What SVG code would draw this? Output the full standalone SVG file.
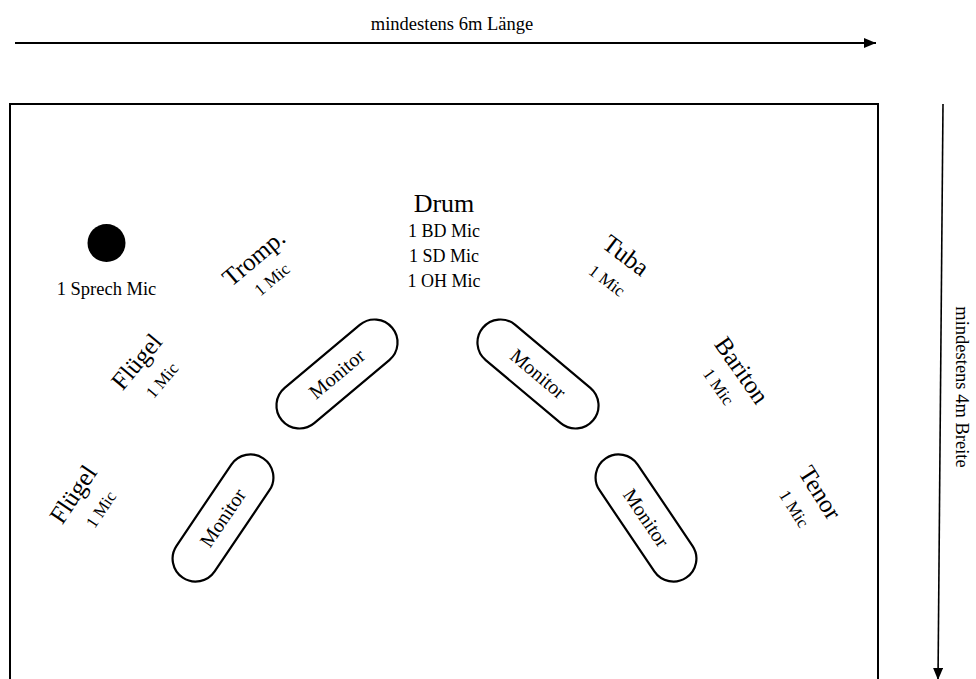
<svg xmlns="http://www.w3.org/2000/svg" width="976" height="679" viewBox="0 0 976 679">
<defs>
<style>
text{font-family:"Liberation Serif","Times New Roman",serif;fill:#000}
.mid{text-anchor:middle}
.name{font-size:25px}
.mic{font-size:17px}
.mon rect{fill:#fff;stroke:#000;stroke-width:2.2}
.mon text{font-size:20px;text-anchor:middle}
.dim{font-size:18.5px;text-anchor:middle}
</style>
<marker id="ah" markerUnits="userSpaceOnUse" markerWidth="14" markerHeight="12" refX="12" refY="5" orient="auto">
<path d="M0,0 L12,5 L0,10 Z" fill="#000"/>
</marker>
</defs>
<rect width="976" height="679" fill="#fff"/>
<g id="stage">
<rect x="10" y="104" width="868" height="600" fill="none" stroke="#000" stroke-width="2"/>
</g>
<g id="connectors" fill="none" stroke="#000">
<line x1="15" y1="43" x2="876" y2="43" stroke-width="2" marker-end="url(#ah)"/>
<line x1="943" y1="104" x2="938" y2="680" stroke-width="1.6" marker-end="url(#ah)"/>
</g>
<g id="dim-length"><text class="dim" x="452" y="30">mindestens 6m Länge</text></g>
<g id="dim-width"><text class="dim" transform="translate(956,387) rotate(90)">mindestens 4m Breite</text></g>
<g id="sprech">
<circle cx="106.5" cy="243" r="19" fill="#000"/>
<text class="mid" x="106.5" y="295" font-size="18.5">1 Sprech Mic</text>
</g>
<g id="drum">
<text class="mid" x="444" y="212" font-size="26">Drum</text>
<text class="mid" x="444" y="237" font-size="18">1 BD Mic</text>
<text class="mid" x="444" y="262" font-size="18">1 SD Mic</text>
<text class="mid" x="444" y="287" font-size="18">1 OH Mic</text>
</g>
<g id="tromp" transform="translate(259,264) rotate(-40)">
<text class="mid name" x="0" y="0">Tromp.</text>
<text class="mid mic" x="0" y="26">1 Mic</text>
</g>
<g id="tuba" transform="translate(621,262) rotate(37)">
<text class="mid name" x="0" y="0">Tuba</text>
<text class="mid mic" x="0" y="29">1 Mic</text>
</g>
<g id="fluegel1" transform="translate(143,367) rotate(-50)">
<text class="mid name" x="0" y="0">Flügel</text>
<text class="mid mic" x="2" y="29">1 Mic</text>
</g>
<g id="bariton" transform="translate(735,375) rotate(55)">
<text class="mid name" x="0" y="0">Bariton</text>
<text class="mid mic" x="0" y="26">1 Mic</text>
</g>
<g id="fluegel2" transform="translate(80,499) rotate(-56)">
<text class="mid name" x="0" y="0">Flügel</text>
<text class="mid mic" x="3" y="29">1 Mic</text>
</g>
<g id="tenor" transform="translate(813,497) rotate(58)">
<text class="mid name" x="0" y="0">Tenor</text>
<text class="mid mic" x="0" y="28">1 Mic</text>
</g>
<g id="monitor1" class="mon" transform="translate(337,374) rotate(-40)">
<rect x="-72" y="-23" width="144" height="46" rx="23"/>
<text x="0" y="6.5">Monitor</text>
</g>
<g id="monitor2" class="mon" transform="translate(538,374) rotate(40)">
<rect x="-72" y="-23" width="144" height="46" rx="23"/>
<text x="0" y="6.5">Monitor</text>
</g>
<g id="monitor3" class="mon" transform="translate(223,518) rotate(-56)">
<rect x="-72" y="-23" width="144" height="46" rx="23"/>
<text x="0" y="6.5">Monitor</text>
</g>
<g id="monitor4" class="mon" transform="translate(646,518) rotate(56)">
<rect x="-72" y="-23" width="144" height="46" rx="23"/>
<text x="0" y="6.5">Monitor</text>
</g>
</svg>
